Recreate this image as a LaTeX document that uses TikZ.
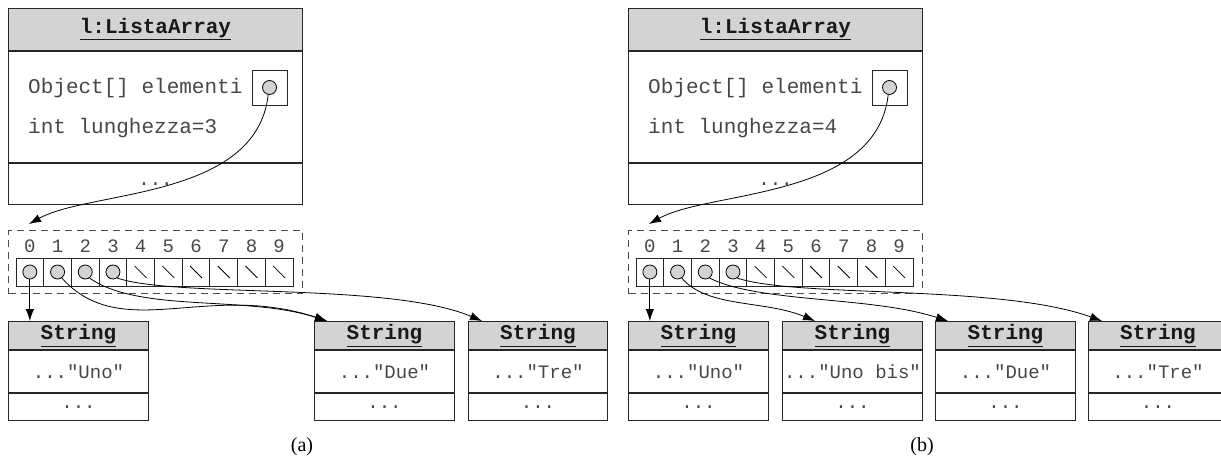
\documentclass[tikz,border=0pt]{standalone}
\usepackage{fontspec}
\usetikzlibrary{arrows.meta}
\newfontfamily\mono{Liberation Mono}
\newfontfamily\capfont{Liberation Serif}
\definecolor{hdrgray}{HTML}{D3D3D3}
\definecolor{ink}{HTML}{474747}
\tikzset{
  box/.style={draw=black!85, line width=1pt, inner sep=0pt},
  hdr/.style={box, fill=hdrgray, text=black!90, font=\mono\fontsize{21}{24}\selectfont\bfseries},
  attr/.style={inner sep=0pt, text=ink, font=\mono\fontsize{21}{24}\selectfont},
  sbody/.style={box, text=ink, font=\mono\fontsize{19}{22}\selectfont},
  sfoot/.style={box, text=ink, font=\mono\fontsize{19}{22}\selectfont},
  dashbox/.style={draw=black!70, line width=1pt, dash pattern=on 7pt off 5pt, inner sep=0pt},
  cell/.style={draw=black!85, line width=1pt, minimum width=27.7pt, minimum height=28pt, inner sep=0pt},
  ptr/.style={circle, draw=black, fill=hdrgray, line width=0.8pt, minimum size=14pt, inner sep=0pt},
  idx/.style={inner sep=0pt, text=ink, font=\mono\fontsize{19}{22}\selectfont},
  slash/.style={draw=black, line width=0.8pt},
  ref/.style={draw=black, line width=0.8pt, -{Latex[length=12pt,width=8.5pt]}},
  captext/.style={inner sep=0pt, font=\capfont\fontsize{20}{23}\selectfont}
}
\newcommand\listarray[2]{%
  \node[hdr, minimum width=294pt, minimum height=42pt, anchor=north west] (#1la) at (8,-8) {\underline{l:ListaArray}};
  \node[box, minimum width=294pt, minimum height=111pt, anchor=north] (#1lb) at (#1la.south) {};
  \node[sfoot, minimum width=294pt, minimum height=41pt, anchor=north] (#1lf) at (#1lb.south) {...};
  \node[attr, anchor=west] (#1a1) at (28,-88) {Object[] elementi};
  \node[attr, anchor=west] (#1a2) at (28,-128) {int lunghezza=#2};
  \node[box, minimum size=35pt] (#1sb) at (269.5,-87.5) {};
  \node[ptr] (#1sc) at (#1sb.center) {};
  \node[dashbox, minimum width=294pt, minimum height=63pt, anchor=north west] (#1db) at (8,-230) {};
  \foreach \i in {0,...,9}{
    \node[cell] (#1c\i) at ({29.85+27.7*\i},-272) {};
    \node[idx] (#1n\i) at ({29.85+27.7*\i},-246) {\i};
  }
  \foreach \i in {0,...,3}{\node[ptr] (#1p\i) at (#1c\i.center) {};}
  \foreach \i in {4,...,9}{\draw[slash] (#1c\i.center) +(-6,6) -- +(6,-6);}
  \coordinate (#1tip) at ([xshift=21pt,yshift=6pt]#1db.north west);
  \draw[ref] (#1sc.-100) .. controls +(-12,-105) and +(61,34) .. (#1tip);
}
\newcommand\strbox[5]{%
  \node[hdr, minimum width=#4, minimum height=28pt, anchor=north west] (#1) at (#2,-321) {\hspace*{#5}\underline{String}};
  \node[sbody, minimum width=#4, minimum height=42pt, anchor=north] (#1b) at (#1.south) {\hspace*{#5}#3};
  \node[sfoot, minimum width=#4, minimum height=27pt, anchor=north] (#1f) at (#1b.south) {\hspace*{#5}...};
}
\begin{document}
\begin{tikzpicture}[x=1pt,y=1pt]
\useasboundingbox (0,0) rectangle (1221,-458);
% ---------- panel (a)
\listarray{a}{3}
\strbox{aU}{8}{..."Uno"}{140pt}{0pt}
\strbox{aD}{314}{..."Due"}{140pt}{0pt}
\strbox{aT}{468}{..."Tre"}{139pt}{0pt}
\draw[ref] (ap0.south) -- (ap0 |- aU.north);
\coordinate (aDt) at ([xshift=13pt]aD.north west);
\coordinate (aTt) at ([xshift=14pt]aT.north west);
\draw[ref] (ap1.-55) .. controls +(60,-66) and +(-120,40) .. (aDt);
\draw[ref] (ap2.-55) .. controls +(50,-35) and +(-80,26) .. (aDt);
\draw[ref] (ap3.-55) .. controls +(60,-20) and +(-92,39) .. (aTt);
% ---------- panel (b)
\begin{scope}[xshift=620pt]
\listarray{b}{4}
\strbox{bU}{8}{..."Uno"}{140pt}{0pt}
\strbox{bB}{162}{..."Uno bis"}{140pt}{0pt}
\strbox{bD}{315}{..."Due"}{140pt}{0pt}
\strbox{bT}{468}{..."Tre"}{132.5pt}{6.5pt}
\draw[ref] (bp0.south) -- (bp0 |- bU.north);
\coordinate (bBt) at ([xshift=33pt]bB.north west);
\coordinate (bDt) at ([xshift=13pt]bD.north west);
\coordinate (bTt) at ([xshift=14pt]bT.north west);
\draw[ref] (bp1.-55) .. controls +(25,-30) and +(-50,21) .. (bBt);
\draw[ref] (bp2.-55) .. controls +(50,-25) and +(-78,25) .. (bDt);
\draw[ref] (bp3.-55) .. controls +(60,-20) and +(-102,37) .. (bTt);
\end{scope}
\node[captext] (capa) at (302,-447) {(a)};
\node[captext] (capb) at (922,-447) {(b)};
\end{tikzpicture}
\end{document}
